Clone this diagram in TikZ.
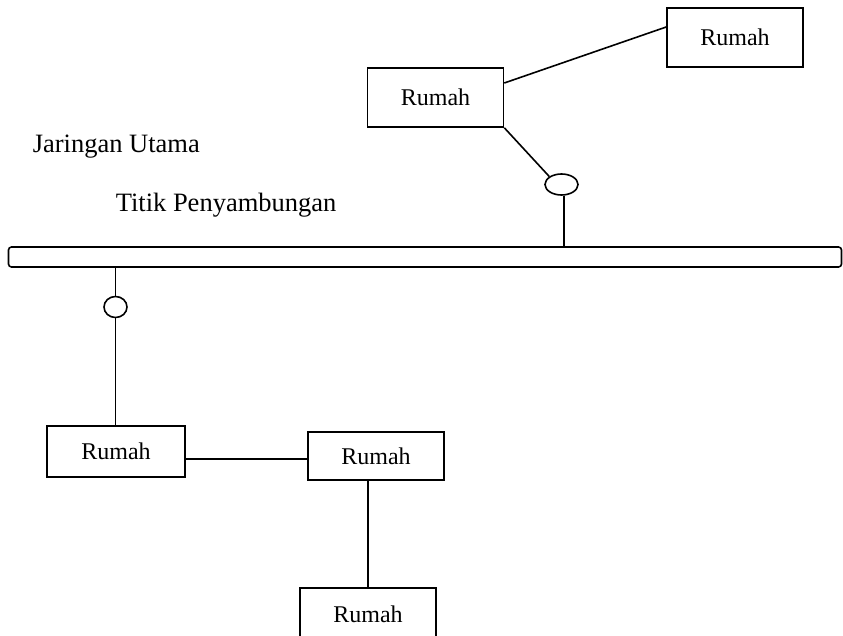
\documentclass[tikz,border=0pt]{standalone}
\usepackage{fontspec}
\setmainfont{Liberation Serif}
\usetikzlibrary{shapes.geometric}
\begin{document}
\begin{tikzpicture}[x=1pt,y=-1pt,
  line width=1.6pt,
  house/.style={draw,rectangle,minimum width=136pt,minimum height=53pt,inner sep=0pt,font=\fontsize{24}{28}\selectfont},
  lbl/.style={anchor=west,inner sep=0pt,font=\fontsize{26.5}{30}\selectfont},
  joint/.style={draw,ellipse,inner sep=0pt}]
\useasboundingbox (0,0) rectangle (843,636);
% main backbone
\node[draw,rounded corners=3pt,minimum width=833pt,minimum height=20pt,inner sep=0pt] (bar) at (425,257) {};
% houses
\node[house,minimum height=59pt] (h1) at (735,37.5) {Rumah};
\node[house,minimum height=59pt] (h2) at (435.5,97.5) {Rumah};
\node[house,minimum width=138pt,minimum height=51pt] (h3) at (116,451.5) {Rumah};
\node[house,minimum height=48pt] (h4) at (376,456) {Rumah};
\node[house,minimum height=52pt] (h5) at (368,614) {Rumah};
% joints
\node[joint,minimum width=33pt,minimum height=21pt] (j1) at (561.5,184.5) {};
\node[joint,minimum width=23pt,minimum height=21pt] (j2) at (115.5,307) {};
% labels
\node[lbl] (t1) at (32,147) {Jaringan Utama};
\node[lbl] (t2) at (115,205) {Titik Penyambungan};
% connectors
\draw (h2.east |- 0,83) -- (h1.west |- 0,27);
\draw (h2.south east) -- (j1.north west);
\draw (j1.south -| 564,0) -- (bar.north -| 564,0);
\draw (bar.south -| j2) -- (j2.north);
\draw (j2.south) -- (h3.north -| j2);
\draw (h3.east |- 0,459) -- (h4.west |- 0,459);
\draw (h4.south -| 368,0) -- (h5.north);
\end{tikzpicture}
\end{document}
